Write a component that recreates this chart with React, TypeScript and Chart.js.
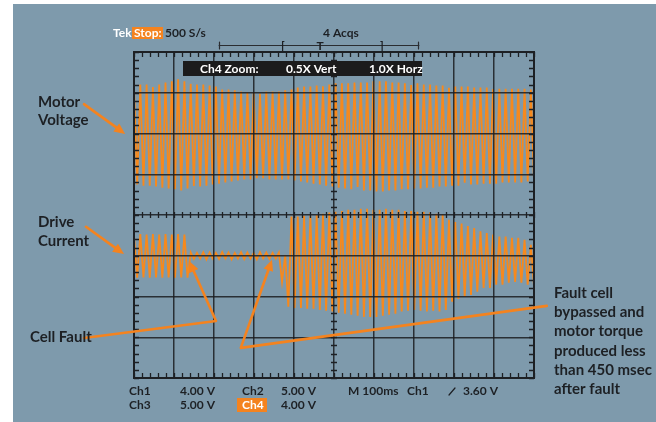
import React, { useEffect, useRef } from "react";
import { Chart, registerables } from "chart.js";

Chart.register(...registerables);

// ---- Time base / grid (10 div x 100 ms, 8 vertical divisions) ----
const timeGridMs = [0, 100, 200, 300, 400, 500, 600, 700, 800, 900, 1000];
const divGrid = [-4, -3, -2, -1, 0, 1, 2, 3, 4];
const SAMPLE_COUNT = 128;
const SAMPLE_STEP_MS = 1000 / (SAMPLE_COUNT - 1);

const MOTOR_OFFSET_DIV = 2;
const DRIVE_OFFSET_DIV = -1;

// ---- Motor voltage: swing peaks (divisions, relative to trace centre) ----
const motorHigh = [
  1.18, 1.2, 1.2, 1.14, 1.2, 1.25, 1.28, 1.33,
  1.28, 1.22, 1.2, 1.2, 1.18, 1.15, 1.08, 1.08,
  1.06, 1.03, 1.01, 1.01, 0.98, 1.03, 1.03, 1.03,
  1.06, 1.08, 1.13, 1.15, 1.15, 1.18, 1.16, 1.2,
  1.23, 1.23, 1.23, 1.25, 1.25, 1.25, 1.28, 1.28,
  1.28, 1.25, 1.25, 1.23, 1.19, 1.23, 1.2, 1.2,
  1.18, 1.18, 1.12, 1.15, 1.15, 1.15, 1.13, 1.13,
  1.13, 1.09, 1.1, 1.1, 1.1, 1.1, 1.1, 1.08,
];
const motorLow = [
  -1.25, -1.28, -1.28, -1.3, -1.33, -1.35, -1.37, -1.4,
  -1.35, -1.29, -1.3, -1.28, -1.25, -1.23, -1.2, -1.18,
  -1.15, -1.13, -1.13, -1.1, -1.1, -1.13, -1.13, -1.13,
  -1.13, -1.15, -1.18, -1.2, -1.23, -1.25, -1.28, -1.3,
  -1.33, -1.35, -1.37, -1.31, -1.4, -1.4, -1.42, -1.42,
  -1.4, -1.4, -1.37, -1.37, -1.35, -1.35, -1.33, -1.33,
  -1.3, -1.3, -1.28, -1.28, -1.21, -1.25, -1.25, -1.23,
  -1.23, -1.23, -1.2, -1.2, -1.2, -1.2, -1.18, -1.18,
];

// ---- Drive current: swing peaks (divisions, relative to trace centre) ----
const driveHigh = [
  0.5, 0.53, 0.52, 0.53, 0.52, 0.53, 0.52, 0.53,
  0.52, 0.08, 0.07, 0.09, 0.08, 0.07, 0.09, 0.08,
  0.07, 0.09, 0.08, 0.07, 0.09, 0.08, 0.07, 0.08,
  0.02, 0.96, 0.96, 0.98, 0.98, 1.0, 1.03, 1.06,
  1.08, 1.1, 1.13, 1.13, 1.15, 1.15, 1.13, 1.13,
  1.15, 1.13, 1.13, 1.1, 1.1, 1.08, 1.08, 1.06,
  1.03, 1.01, 0.88, 0.83, 0.79, 0.73, 0.68, 0.6,
  0.56, 0.52, 0.47, 0.47, 0.44, 0.44, 0.39, 0.27,
];
const driveLow = [
  -0.54, -0.53, -0.54, -0.53, -0.54, -0.53, -0.54, -0.53,
  -0.54, -0.08, -0.07, -0.09, -0.07, -0.08, -0.07, -0.09,
  -0.07, -0.08, -0.07, -0.09, -0.07, -0.08, -0.07, -0.64,
  -1.25, -1.28, -1.28, -1.3, -1.3, -1.33, -1.35, -1.37,
  -1.4, -1.42, -1.45, -1.47, -1.5, -1.5, -1.5, -1.47,
  -1.45, -1.42, -1.37, -1.35, -1.33, -1.35, -1.37, -1.35,
  -1.37, -1.33, -1.13, -1.06, -1.01, -0.96, -0.88, -0.79,
  -0.79, -0.71, -0.71, -0.66, -0.64, -0.66, -0.71, -0.75,
];

// ---- Annotation arrows (time ms, divisions) ----
const motorArrow = [[-125, 2.72], [-22, 1.99]];
const driveArrow = [[-120, -0.29], [-25, -0.96]];
const cellFaultArrow = [[-125, -3.02], [205, -2.6], [138, -1.13]];
const bypassArrow = [[1032, -2.23], [267, -3.26], [345, -1.1]];

// ---- Texts ----
const headerTek = "Tek";
const headerStop = "Stop:";
const headerRate = "500 S/s";
const headerAcqs = "4 Acqs";
const zoomTexts = ["Ch4 Zoom:", "0.5X Vert", "1.0X Horz"];
const footRow1 = [["Ch1", 129], ["4.00 V", 180], ["Ch2", 242], ["5.00 V", 281], ["M 100ms", 348], ["Ch1", 407], ["3.60 V", 463]];
const footRow2 = [["Ch3", 129], ["5.00 V", 180], ["4.00 V", 281]];
const footCh4 = "Ch4";
const motorLabel = ["Motor", "Voltage"];
const driveLabel = ["Drive", "Current"];
const cellFaultLabel = "Cell Fault";
const bypassLabel = ["Fault cell", "bypassed and", "motor torque", "produced less", "than 450 msec", "after fault"];

const BG = "#7e9aac";
const TRACE = "#f7891c";
const ANNOT = "#f4831f";
const DARK = "#1d2024";
const GRID = "rgba(26,28,32,0.85)";

function buildTrace(high: number[], low: number[], offset: number) {
  const pts: { x: number; y: number }[] = [];
  for (let k = 0; k < high.length; k++) {
    pts.push({ x: 2 * k * SAMPLE_STEP_MS, y: offset + high[k] });
    pts.push({ x: (2 * k + 1) * SAMPLE_STEP_MS, y: offset + low[k] });
  }
  return pts;
}

const scopePlugin = {
  id: "scope",
  beforeDraw(chart: any) {
    const ctx = chart.ctx;
    ctx.save();
    ctx.fillStyle = "#ffffff";
    ctx.fillRect(0, 0, chart.width, chart.height);
    ctx.fillStyle = BG;
    ctx.fillRect(13, 4, chart.width - 13, chart.height - 4);
    ctx.restore();
  },
  afterDraw(chart: any) {
    const ctx = chart.ctx;
    const xs = chart.scales.x;
    const ys = chart.scales.y;
    const { left, right, top, bottom } = chart.chartArea;
    ctx.save();

    // frame
    ctx.strokeStyle = DARK;
    ctx.lineWidth = 2;
    ctx.strokeRect(left, top, right - left, bottom - top);

    // minor ticks
    ctx.lineWidth = 1.3;
    ctx.strokeStyle = DARK;
    const y0 = ys.getPixelForValue(0);
    const x0 = xs.getPixelForValue(500);
    ctx.beginPath();
    for (let i = 0; i <= 50; i++) {
      const px = Math.round(xs.getPixelForValue(i * 20)) + 0.5;
      ctx.moveTo(px, top); ctx.lineTo(px, top + 5);
      ctx.moveTo(px, bottom); ctx.lineTo(px, bottom - 5);
      ctx.moveTo(px, y0 - 3); ctx.lineTo(px, y0 + 3);
    }
    for (let i = 0; i <= 40; i++) {
      const py = Math.round(ys.getPixelForValue(-4 + i * 0.2)) + 0.5;
      ctx.moveTo(left, py); ctx.lineTo(left + 5, py);
      ctx.moveTo(right, py); ctx.lineTo(right - 5, py);
      ctx.moveTo(x0 - 3, py); ctx.lineTo(x0 + 3, py);
    }
    ctx.stroke();

    // arrows
    const toPx = (p: number[]) => [xs.getPixelForValue(p[0]), ys.getPixelForValue(p[1])];
    const arrow = (pts: number[][]) => {
      const pp = pts.map(toPx);
      ctx.strokeStyle = ANNOT;
      ctx.fillStyle = ANNOT;
      ctx.lineWidth = 2.6;
      ctx.lineCap = "round";
      ctx.lineJoin = "round";
      const n = pp.length;
      const [tx, ty] = pp[n - 1];
      const [sx, sy] = pp[n - 2];
      const ang = Math.atan2(ty - sy, tx - sx);
      const hl = 11;
      ctx.beginPath();
      ctx.moveTo(pp[0][0], pp[0][1]);
      for (let i = 1; i < n - 1; i++) ctx.lineTo(pp[i][0], pp[i][1]);
      ctx.lineTo(tx - Math.cos(ang) * (hl - 2), ty - Math.sin(ang) * (hl - 2));
      ctx.stroke();
      ctx.beginPath();
      ctx.moveTo(tx, ty);
      ctx.lineTo(tx - hl * Math.cos(ang) + 5 * Math.sin(ang), ty - hl * Math.sin(ang) - 5 * Math.cos(ang));
      ctx.lineTo(tx - hl * Math.cos(ang) - 5 * Math.sin(ang), ty - hl * Math.sin(ang) + 5 * Math.cos(ang));
      ctx.closePath();
      ctx.fill();
    };
    arrow(motorArrow);
    arrow(driveArrow);
    arrow(cellFaultArrow);
    arrow(bypassArrow);

    const txt = (s: string, x: number, y: number, font: string, color: string, align = "left") => {
      ctx.font = font;
      ctx.fillStyle = color;
      ctx.textAlign = align;
      ctx.textBaseline = "alphabetic";
      ctx.fillText(s, x, y);
    };
    const LBL = "bold 15px Lato";
    const SC = "bold 12px Lato";

    txt(motorLabel[0], 38, 107, LBL, DARK);
    txt(motorLabel[1], 38, 125, LBL, DARK);
    txt(driveLabel[0], 38, 227, LBL, DARK);
    txt(driveLabel[1], 38, 246, LBL, DARK);
    txt(cellFaultLabel, 30, 342, LBL, DARK);
    bypassLabel.forEach((s, i) => txt(s, 554, 298 + i * 19.2, LBL, DARK));

    // header
    txt(headerTek, 113, 37, SC, "#ffffff");
    ctx.fillStyle = ANNOT;
    ctx.fillRect(132, 27, 31, 12);
    txt(headerStop, 134, 37, SC, "#ffffff");
    txt(headerRate, 165, 37, SC, DARK);
    txt(headerAcqs, 323, 37, SC, DARK);

    // trigger bracket
    ctx.strokeStyle = "#2a2d31";
    ctx.lineWidth = 1.2;
    ctx.beginPath();
    ctx.moveTo(219, 45.5); ctx.lineTo(419, 45.5);
    ctx.moveTo(219.5, 42); ctx.lineTo(219.5, 49);
    ctx.moveTo(418.5, 42); ctx.lineTo(418.5, 49);
    ctx.stroke();
    txt("[", 283, 50, "bold 12px Lato", DARK, "center");
    txt("T", 320, 50, "bold 12px Lato", DARK, "center");
    txt("]", 382, 50, "bold 12px Lato", DARK, "center");

    // zoom box
    ctx.fillStyle = "#1b1b1c";
    ctx.fillRect(183, 61, 239, 15);
    txt(zoomTexts[0], 200, 73, SC, "#ffffff");
    txt(zoomTexts[1], 286, 73, SC, "#ffffff");
    txt(zoomTexts[2], 369, 73, SC, "#ffffff");

    // footer
    footRow1.forEach(([s, x]) => txt(s as string, x as number, 395, SC, DARK));
    footRow2.forEach(([s, x]) => txt(s as string, x as number, 409, SC, DARK));
    ctx.fillStyle = ANNOT;
    ctx.fillRect(237, 398, 30, 14);
    txt(footCh4, 242, 409, SC, "#ffffff");
    ctx.strokeStyle = DARK;
    ctx.lineWidth = 1.2;
    ctx.beginPath();
    ctx.moveTo(449, 395); ctx.lineTo(455, 388);
    ctx.stroke();

    ctx.restore();
  },
};

export default function App() {
  const ref = useRef<HTMLCanvasElement | null>(null);
  useEffect(() => {
    if (!ref.current) return;
    const chart = new Chart(ref.current, {
      type: "line",
      data: {
        datasets: [
          {
            data: buildTrace(motorHigh, motorLow, MOTOR_OFFSET_DIV),
            borderColor: TRACE,
            borderWidth: 1.8,
            pointRadius: 0,
            tension: 0,
          },
          {
            data: buildTrace(driveHigh, driveLow, DRIVE_OFFSET_DIV),
            borderColor: TRACE,
            borderWidth: 1.8,
            pointRadius: 0,
            tension: 0,
          },
        ],
      },
      options: {
        animation: false,
        responsive: false,
        events: [],
        layout: { padding: { left: 134, top: 52, right: 122, bottom: 44 } },
        plugins: { legend: { display: false }, tooltip: { enabled: false } },
        scales: {
          x: {
            type: "linear",
            min: 0,
            max: 1000,
            afterBuildTicks: (s: any) => { s.ticks = timeGridMs.map((v) => ({ value: v })); },
            afterFit: (s: any) => { s.height = 0; },
            ticks: { display: false },
            grid: { color: GRID, lineWidth: 1.5, drawTicks: false, z: 1 },
            border: { display: false },
          },
          y: {
            type: "linear",
            min: -4,
            max: 4,
            afterBuildTicks: (s: any) => { s.ticks = divGrid.map((v) => ({ value: v })); },
            afterFit: (s: any) => { s.width = 0; },
            ticks: { display: false },
            grid: { color: GRID, lineWidth: 1.5, drawTicks: false, z: 1 },
            border: { display: false },
          },
        },
      } as any,
      plugins: [scopePlugin as any],
    });
    return () => chart.destroy();
  }, []);
  return (
    <div style={{ position: "absolute", left: 0, top: 0, width: 656, height: 422 }}>
      <canvas ref={ref} width={656} height={422} style={{ display: "block", width: 656, height: 422 }} />
    </div>
  );
}
